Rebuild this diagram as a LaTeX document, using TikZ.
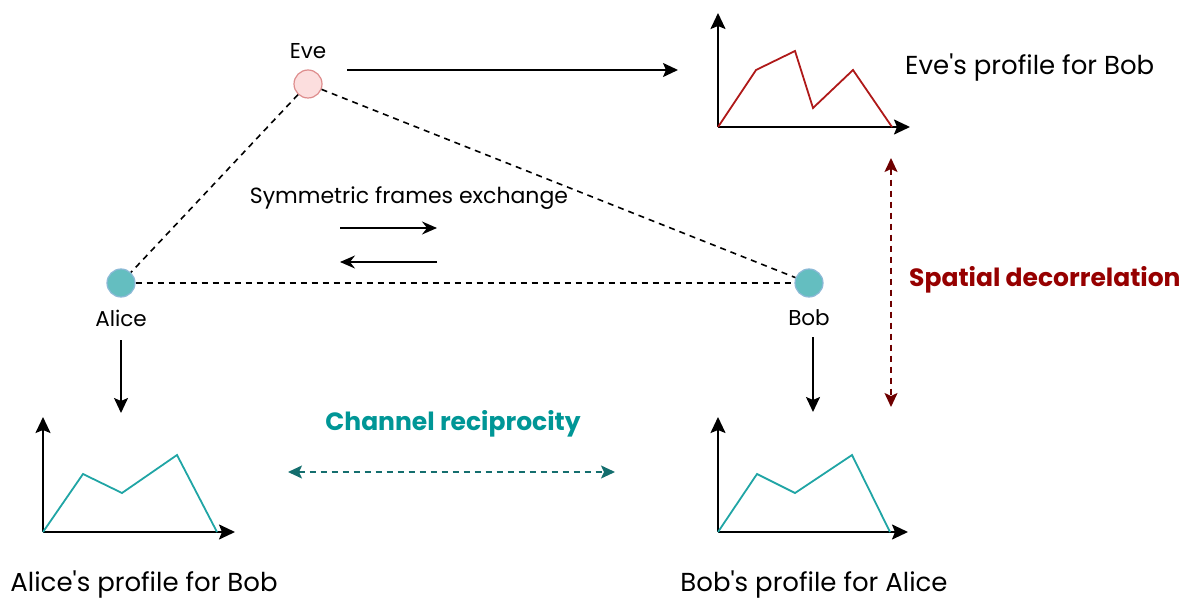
\documentclass[tikz,border=0pt]{standalone}
\usepackage{fontspec}
\setmainfont{Poppins}
\usetikzlibrary{arrows.meta,positioning}
\definecolor{PeerTeal}{RGB}{100,190,192}
\definecolor{PeerRim}{RGB}{140,185,215}
\definecolor{EvePink}{RGB}{252,222,222}
\definecolor{EveRim}{RGB}{222,140,140}
\definecolor{CurveTeal}{RGB}{32,165,165}
\definecolor{CurveRed}{RGB}{175,25,25}
\definecolor{RecipTeal}{RGB}{0,150,150}
\definecolor{ArrTeal}{RGB}{20,110,110}
\definecolor{DecoRed}{RGB}{150,0,0}
\definecolor{ArrRed}{RGB}{110,0,0}

\begin{document}
\begin{tikzpicture}[x=1pt,y=-1pt,
  peer/.style={circle,draw=PeerRim,fill=PeerTeal,line width=1.2pt,minimum size=28pt,inner sep=0pt},
  lbl/.style={font=\fontsize{21.5}{25}\selectfont,inner sep=0pt},
  prof/.style={font=\fontsize{26}{30}\selectfont,inner sep=0pt},
  big/.style={font=\bfseries\fontsize{25}{29}\selectfont,inner sep=0pt},
  link/.style={dashed,line width=1.6pt,dash pattern=on 6pt off 5pt},
  arr/.style={-{Stealth[length=15pt,width=14pt,inset=3pt]},line width=1.8pt},
  axis/.style={-{Stealth[length=16pt,width=15pt,inset=3pt]},line width=2pt},
  both/.style={{Stealth[length=14pt,width=13pt,inset=3pt]}-{Stealth[length=14pt,width=13pt,inset=3pt]},line width=1.6pt,dash pattern=on 6pt off 5pt}
]
  \useasboundingbox (0,0) rectangle (1182,601);
  % peers
  \node[peer,draw=EveRim,fill=EvePink] (eve) at (308,84) {};
  \node[peer] (alice) at (121,283) {};
  \node[peer] (bob) at (809,283) {};
  \node[lbl] (eveL) at (308,51) {Eve};
  \node[lbl] (aliceL) at (121,318) {Alice};
  \node[lbl] (bobL) at (809,318) {Bob};
  \draw[link] (eve)--(alice);
  \draw[link] (eve)--(bob);
  \draw[link] (alice)--(bob);
  % exchange
  \node[lbl,font=\fontsize{22}{26}\selectfont] (sym) at (409,198) {Symmetric frames exchange};
  \coordinate (xa) at (340,228);
  \coordinate (xb) at (437,228);
  \coordinate (ya) at (437,262);
  \coordinate (yb) at (340,262);
  \draw[arr,-{Stealth[length=15pt,width=13pt,inset=5pt]}] (xa)--(xb);
  \draw[arr,-{Stealth[length=15pt,width=13pt,inset=5pt]}] (ya)--(yb);
  % profiles
  \draw[axis] (718,127)--(718,13);
  \draw[axis] (718,127)--(910,127);
  \draw[CurveRed,line width=1.8pt] (718,127)--(756,70)--(795,51)--(813,108)--(853,70)--(892,127);
  \draw[axis] (43,532)--(43,417);
  \draw[axis] (43,532)--(235,532);
  \draw[CurveTeal,line width=1.8pt] (43,532)--(83,474)--(122,493)--(177,455)--(217,532);
  \draw[axis] (718,532)--(718,417);
  \draw[axis] (718,532)--(908,532);
  \draw[CurveTeal,line width=1.8pt] (718,532)--(757,474)--(795,493)--(852,455)--(890,532);
  \node[prof,anchor=west] (eveP) at (905,68) {Eve\textquotesingle s profile for Bob};
  \node[prof] (aliceP) at (144,585) {Alice\textquotesingle s profile for Bob};
  \node[prof] (bobP) at (814,585) {Bob\textquotesingle s profile for Alice};
  % arrows to profiles
  \coordinate (eveIn) at (347,70);
  \coordinate (eveOut) at (678,70);
  \coordinate (aliceOut) at (121,413);
  \coordinate (bobOut) at (813,412);
  \draw[arr] (eveIn)--(eveOut);
  \draw[arr] (121,340)--(aliceOut);
  \draw[arr] (813,337)--(bobOut);
  % relations
  \node[big,text=RecipTeal] (recip) at (453,424) {Channel reciprocity};
  \coordinate (ra) at (288,472);
  \coordinate (rb) at (615,472);
  \draw[both,ArrTeal] (ra)--(rb);
  \node[big,text=DecoRed,anchor=west] (deco) at (909,280) {Spatial decorrelation};
  \coordinate (da) at (891,158);
  \coordinate (db) at (891,407);
  \draw[both,ArrRed] (da)--(db);
\end{tikzpicture}
\end{document}
